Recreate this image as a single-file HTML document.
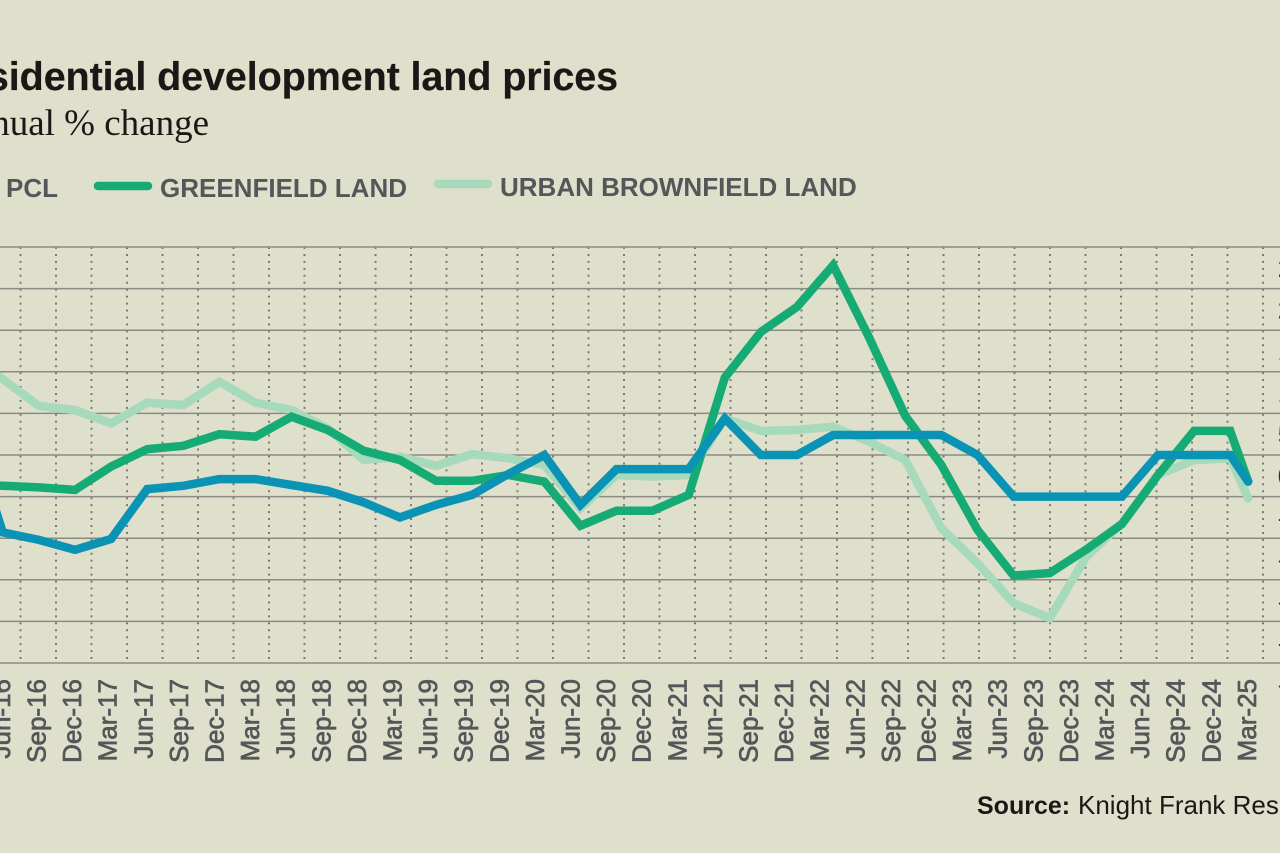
<!DOCTYPE html>
<html lang="en">
<head>
<meta charset="utf-8">
<title>Residential development land prices</title>
<style>
html,body{margin:0;padding:0;background:#dfe0cb;width:1280px;height:853px;overflow:hidden}
svg{display:block}
text{font-family:"Liberation Sans",sans-serif}
</style>
</head>
<body>
<svg id="chart" width="1280" height="853" viewBox="0 0 1280 853" xmlns="http://www.w3.org/2000/svg">
  <rect x="0" y="0" width="1280" height="853" fill="#dfe0cb"/>
  <text x="618" y="90" text-anchor="end" font-size="39.5" font-weight="700" letter-spacing="-0.1" fill="#1a1817" stroke="#1a1817" stroke-width="0.2">Residential development land prices</text>
  <text x="209" y="135" text-anchor="end" font-size="37" fill="#1a1817" style="font-family:'Liberation Serif',serif">Annual % change</text>

  <g>
    <line x1="-62" y1="186" x2="-6" y2="186" stroke="#0a93b5" stroke-width="8.5" stroke-linecap="round"/>
    <text x="6" y="197" font-size="26" font-weight="700" fill="#55565a">PCL</text>
    <line x1="98" y1="186" x2="148" y2="186" stroke="#16ab74" stroke-width="8.5" stroke-linecap="round"/>
    <text x="160" y="197" font-size="26" font-weight="700" fill="#55565a">GREENFIELD LAND</text>
    <line x1="438" y1="184" x2="488" y2="184" stroke="#a6dabb" stroke-width="8.5" stroke-linecap="round"/>
    <text x="500" y="196" font-size="26" font-weight="700" fill="#55565a">URBAN BROWNFIELD LAND</text>
  </g>

  <g id="grid-v"></g>
  <g id="grid-h"></g>
  <g id="series"></g>
  <g id="x-labels"></g>
  <g id="y-labels"></g>

  <text x="977" y="814" font-size="25" font-weight="700" fill="#1a1817">Source:</text>
  <text x="1078" y="814" font-size="26" fill="#1a1817">Knight Frank Research</text>
</svg>
<script>
const quarters = ["Mar-16","Jun-16","Sep-16","Dec-16","Mar-17","Jun-17","Sep-17","Dec-17","Mar-18","Jun-18","Sep-18","Dec-18","Mar-19","Jun-19","Sep-19","Dec-19","Mar-20","Jun-20","Sep-20","Dec-20","Mar-21","Jun-21","Sep-21","Dec-21","Mar-22","Jun-22","Sep-22","Dec-22","Mar-23","Jun-23","Sep-23","Dec-23","Mar-24","Jun-24","Sep-24","Dec-24","Mar-25"];
const yTicks = [25,20,15,10,5,0,-5,-10,-15,-20,-25];
const urbanBrownfield = [12.4,9.1,5.9,5.4,3.8,6.3,6.0,8.8,6.3,5.4,3.2,-0.6,-0.2,-1.3,0.1,-0.4,-1.2,-6.4,-2.4,-2.6,-2.4,4.4,2.9,3.0,3.4,1.6,-0.6,-8.8,-13.0,-17.8,-19.6,-12.3,-8.2,-2.4,-0.6,-0.4,-5.2];
const greenfield = [-3.6,-3.7,-3.9,-4.2,-1.4,0.7,1.1,2.5,2.2,4.6,3.0,0.5,-0.6,-3.1,-3.1,-2.4,-3.2,-8.5,-6.7,-6.7,-4.8,9.3,14.8,17.8,22.8,14.1,4.7,-1.2,-9.0,-14.5,-14.2,-11.4,-8.3,-2.4,2.9,2.9,-3.2];
const pcl = [4.2,-9.3,-10.2,-11.4,-10.1,-4.1,-3.7,-2.9,-2.9,-3.6,-4.3,-5.7,-7.5,-6.0,-4.8,-2.3,0,-6,-1.7,-1.7,-1.7,4.4,0,0,2.4,2.4,2.4,2.4,0,-5,-5,-5,-5,0,0,0,-3.2];

const NS = "http://www.w3.org/2000/svg";
const yScale = v => 455 - v * 8.32;
const labelX = i => 45.5 + 35.6 * (i - 2);
const dotX = i => 20.5 + 35.5 * (i - 1);
const dataX = i => {
  const base = k => 75 + 36.1 * (k - 3);
  return i === quarters.length - 1 ? base(i - 1) + 18 : base(i);
};
function make(tag, attrs, parent) {
  const el = document.createElementNS(NS, tag);
  for (const k in attrs) el.setAttribute(k, attrs[k]);
  parent.appendChild(el);
  return el;
}

const gv = document.getElementById("grid-v");
quarters.forEach((q, i) => {
  const x = dotX(i);
  if (x < 0) return;
  const l = make("line", {x1:x, x2:x, y1:yScale(25), y2:yScale(-25), stroke:"#7b7a75", "stroke-width":2, "stroke-dasharray":"2 4.95"}, gv);
  
  
});

const gh = document.getElementById("grid-h");
yTicks.forEach(t => {
  const y = yScale(t);
  const l = make("line", {x1:0, x2:1280, y1:y, y2:y, stroke:"#8c8a84", "stroke-width":1.5}, gh);
  
  
});

const gs = document.getElementById("series");
function drawSeries(values, color, name) {
  const d = values.map((v, i) => (i ? "L" : "M") + dataX(i).toFixed(1) + " " + yScale(v).toFixed(1)).join(" ");
  const p = make("path", {d:d, fill:"none", stroke:color, "stroke-width":8.5, "stroke-linejoin":"miter", "stroke-miterlimit":3, "stroke-linecap":"round"}, gs);
  
  
}
drawSeries(urbanBrownfield, "#a6dabb", "series-urban-brownfield");
drawSeries(greenfield, "#16ab74", "series-greenfield");
drawSeries(pcl, "#0a93b5", "series-pcl");

const gx = document.getElementById("x-labels");
quarters.forEach((q, i) => {
  const x = labelX(i);
  const t = make("text", {transform:"translate(" + x + ",679) rotate(-90)", "text-anchor":"end", "font-size":26, fill:"#55565a", stroke:"#55565a", "stroke-width":0.7}, gx);
  t.textContent = q;
  
  
});

const gy = document.getElementById("y-labels");
yTicks.forEach(tk => {
  const t = make("text", {x:1277.8, y:yScale(tk) + 30, "font-size":25, fill:"#33322f"}, gy);
  t.textContent = tk;
  
  
});
</script>
</body>
</html>
